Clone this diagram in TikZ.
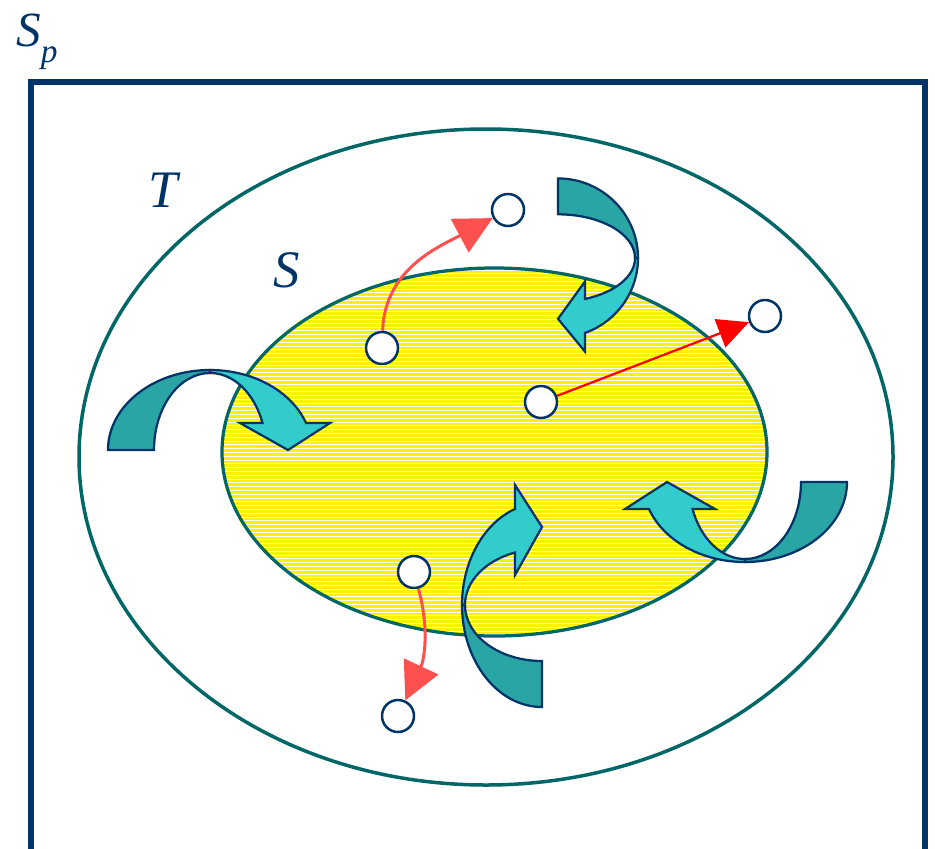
\documentclass[tikz,border=0pt]{standalone}
\usepackage{fontspec}
\setmainfont{Liberation Serif}
\usepackage{xcolor}
\usepackage{tikz}
\usetikzlibrary{arrows.meta, positioning, calc}

\definecolor{navy}{HTML}{003366}
\definecolor{tealline}{HTML}{006666}
\definecolor{tealdark}{HTML}{2AA5A5}
\definecolor{cyanlight}{HTML}{33CCCC}
\definecolor{softred}{HTML}{FF5050}

\begin{document}
\begin{tikzpicture}[x=0.02cm, y=-0.02cm,
    dot/.style={circle, draw=navy, fill=white, line width=0.05cm, minimum size=0.64cm, inner sep=0pt},
    lbl/.style={text=navy, font=\fontsize{30}{30}\selectfont\itshape},
    softarrow/.style={softred, line width=0.06cm, -{Triangle[length=0.75cm, width=0.75cm]}},
    hardarrow/.style={red, line width=0.045cm, -{Triangle[length=0.62cm, width=0.6cm]}},
    curvarrow/.pic={
        % 深色的一半
        \filldraw[fill=tealdark, draw=navy, line width=0.045cm]
            (-102,0) arc[start angle=180, end angle=270, x radius=102, y radius=80]
            -- (0,-77) arc[start angle=270, end angle=180, x radius=56, y radius=77] -- cycle;
        % 浅色的一半和箭头
        \filldraw[fill=cyanlight, draw=navy, line width=0.045cm, line join=miter]
            (0,-80) arc[start angle=270, end angle=340.3, x radius=102, y radius=80]
            -- (120,-27) -- (78,0) -- (30,-27) -- (52.5,-27)
            arc[start angle=339.5, end angle=270, x radius=56, y radius=77] -- cycle;
    }]
    \useasboundingbox (0,0) rectangle (935,848);

    % 外框 S_p
    \draw[navy, line width=0.11cm] (31,852) rectangle (925,82);
    \node[text=navy, anchor=base west, inner sep=0pt] (sp) at (16,47)
        {\fontsize{28}{28}\selectfont\itshape S\raisebox{-0.32em}{\fontsize{19}{19}\selectfont p}};

    % 集合 T
    \draw[tealline, line width=0.07cm] (486,457) ellipse [x radius=407, y radius=328];
    \node[lbl] (t) at (163,190) {T};

    % 集合 S (黄色条纹)
    \begin{scope}
        \clip (494.5,452) ellipse [x radius=272.5, y radius=184];
        \fill[yellow] (220,265) rectangle (770,640);
        \foreach \y in {270,273.8,...,636}
            \draw[white, line width=0.013cm] (220,\y) -- (770,\y);
    \end{scope}
    \draw[tealline, line width=0.065cm] (494.5,452) ellipse [x radius=272.5, y radius=184];
    \node[lbl] (s) at (287,270) {S};

    % 弯箭头
    \pic at (210,450) {curvarrow};
    \pic[rotate=-90, xscale=0.78] at (558,258) {curvarrow};
    \pic[rotate=90] at (542,605) {curvarrow};
    \pic[rotate=180] at (745,482) {curvarrow};

    % 小圆点
    \node[dot] (c1) at (382,348) {};
    \node[dot] (c2) at (508,210) {};
    \node[dot] (c3) at (541,402) {};
    \node[dot] (c4) at (765,316) {};
    \node[dot] (c5) at (414,572) {};
    \node[dot] (c6) at (398,716) {};

    % 红色箭头
    \draw[softarrow] (c1) to[out=88, in=208] (c2);
    \draw[hardarrow] (c3) -- (c4);
    \draw[softarrow] (c5) to[out=-75, in=65] (c6);
\end{tikzpicture}
\end{document}
